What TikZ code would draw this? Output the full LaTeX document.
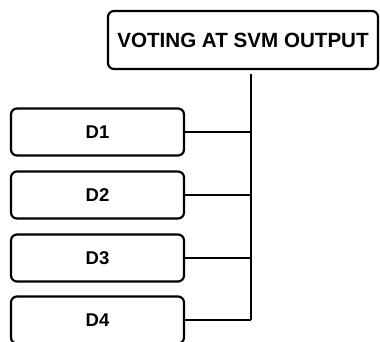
\documentclass[tikz,border=0pt]{standalone}
\usepackage{fontspec}
\setmainfont{Liberation Sans}
\begin{document}
\begin{tikzpicture}[x=1pt,y=-1pt,
  box/.style={draw,rounded corners=6pt,line width=2.2pt,inner sep=0pt},
  wire/.style={line width=1.3pt}]
  \useasboundingbox (0,0) rectangle (380,342);

  \node[box,minimum width=270pt,minimum height=58pt,
        font=\fontsize{20.6}{24}\selectfont\bfseries] (vote) at (243,40) {VOTING AT SVM OUTPUT};

  \foreach \i/\y in {1/132,2/195,3/258,4/320}{
    \node[box,minimum width=173pt,minimum height=47pt,
          font=\fontsize{18.5}{22}\selectfont\bfseries] (d\i) at (97.5,\y) {D\i};
  }

  \coordinate (top) at (251,74);
  \coordinate (bot) at (251,320);
  \draw[wire] (top) -- (bot);
  \foreach \i in {1,2,3,4}{
    \draw[wire] (d\i.east) -- (d\i.east -| top);
  }
\end{tikzpicture}
\end{document}
